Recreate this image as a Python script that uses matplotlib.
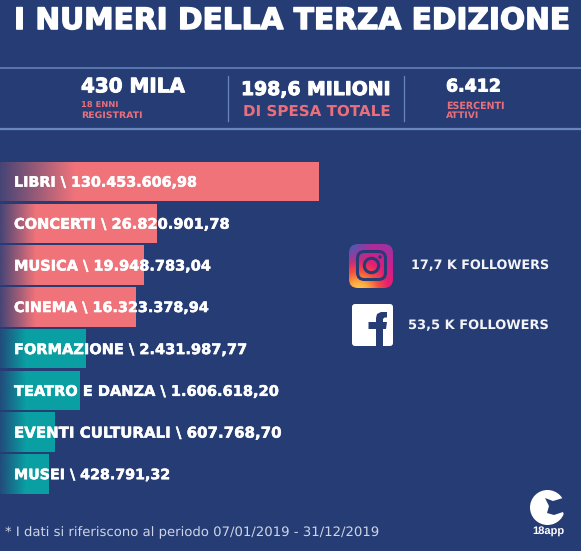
import numpy as np
import matplotlib
matplotlib.use("Agg")
import matplotlib.pyplot as plt
import matplotlib.patheffects as pe
from matplotlib.patches import FancyBboxPatch, Circle, Polygon
from matplotlib.colors import LinearSegmentedColormap, to_rgb

plt.rcParams["text.hinting"] = "no_hinting"
plt.rcParams["text.hinting_factor"] = 8

# ---- data ----
categories = ["LIBRI", "CONCERTI", "MUSICA", "CINEMA", "FORMAZIONE",
              "TEATRO E DANZA", "EVENTI CULTURALI", "MUSEI"]
spending = ["130.453.606,98", "26.820.901,78", "19.948.783,04", "16.323.378,94",
            "2.431.987,77", "1.606.618,20", "607.768,70", "428.791,32"]
# the bars in the reference are not proportional to the amounts: drawn lengths as read
bar_lengths = [319, 157, 144, 136, 86, 80, 55, 49]
bar_groups = ["pink", "pink", "pink", "pink", "teal", "teal", "teal", "teal"]
fade_lengths = [75, 36, 36, 36, 26, 26, 26, 26]
social = ["17,7 K FOLLOWERS", "53,5 K FOLLOWERS"]

BG = "#263c75"
PINK = "#f0737a"
TEAL = "#0a9fa3"
LINE = "#6787bd"
SALMON = "#e96f7c"
FONT = "DejaVu Sans"
colors = {"pink": PINK, "teal": TEAL}

fig = plt.figure(figsize=(5.81, 5.51), dpi=100, facecolor=BG)
ax = fig.add_axes([0, 0, 1, 1])
ax.set_xlim(0, 581)
ax.set_ylim(551, 0)
ax.axis("off")
renderer = fig.canvas.get_renderer()


def put(x, y, s, width=None, size=12, color="white", weight="bold", ha="left",
        stroke=0.0, family=FONT):
    t = ax.text(x, y + 0.8, s, color=color, fontsize=size, fontweight=weight, family=family,
                ha=ha, va="center", zorder=10)
    if width is not None:
        for _ in range(3):
            t.set_fontsize(t.get_fontsize() * width / t.get_window_extent(renderer).width)
    if stroke:
        t.set_path_effects([pe.withStroke(linewidth=stroke, foreground=color)])
    return t


# header
put(14, 20, "I NUMERI DELLA TERZA EDIZIONE", width=556, size=22, stroke=1.0)
ax.plot([0, 581], [68, 68], color=LINE, lw=1.1)
ax.plot([0, 581], [129, 129], color=LINE, lw=1.6)
ax.plot([228, 228], [76, 121], color=LINE, lw=0.9)
ax.plot([404, 404], [76, 121], color=LINE, lw=0.9)

put(81, 86, "430 MILA", width=104, size=15, stroke=0.7)
put(81, 105, "18 ENNI", width=37, size=7, color=SALMON)
put(81, 115, "REGISTRATI", width=62, size=7, color=SALMON)
put(241, 89, "198,6 MILIONI", width=150, size=15, stroke=0.7)
put(243, 111, "DI SPESA TOTALE", width=147, size=12, color=SALMON, weight="semibold")
put(446, 86, "6.412", width=55, size=15, stroke=0.7)
put(446, 105, "ESERCENTI", width=59, size=7, color=SALMON)
put(446, 115, "ATTIVI", width=33, size=7, color=SALMON)

# bars
ys = np.linspace(181.5, 474, 8)
heights = 39.5
bar_colors = [colors[g] for g in bar_groups]
ax.barh(ys, bar_lengths, height=heights, color=bar_colors, linewidth=0, zorder=2)

fade = np.zeros((2, 256, 4))
fade[..., :3] = to_rgb(BG)
fade[..., 3] = np.linspace(0.85, 0.0, 256)
for y, f in zip(ys, fade_lengths):
    ax.imshow(fade, extent=(0, f, y + heights / 2, y - heights / 2), aspect="auto",
              interpolation="bilinear", zorder=3)

label_widths = [183, 215, 197, 195, 232, 264, 267, 156]
for y, c, v, w in zip(ys, categories, spending, label_widths):
    put(14, y + 0.5, f"{c} \\ {v}", width=(w + 2 * (186 + 0.0) / 186 * 0) * 0.5 + 0.5 * w, size=10.5, stroke=0.35)

# Instagram icon
gy, gx = np.mgrid[0:1:120j, 0:1:120j]
radial = np.clip(np.hypot(gx - 0.22, gy - 1.08) / 1.15, 0, 1)
cmap = LinearSegmentedColormap.from_list(
    "ig", ["#ffd35a", "#fba53f", "#f4503f", "#e6206f", "#cc1f8e", "#a52f9e"])
rgba = cmap(radial)
corner = np.clip(1.0 - np.hypot(gx, gy) / 0.55, 0, 1)[..., None]
rgba[..., :3] = rgba[..., :3] * (1 - corner) + np.array(to_rgb("#3f62b5")) * corner
im = ax.imshow(rgba, extent=(349, 393, 288, 244), aspect="auto", zorder=4)
clip = FancyBboxPatch((353, 248), 36, 36, boxstyle="round,pad=4,rounding_size=9",
                      fc="none", ec="none")
ax.add_patch(clip)
im.set_clip_path(clip)
ax.add_patch(FancyBboxPatch((357.5, 251.5), 28, 28, boxstyle="round,pad=0,rounding_size=7",
                            fc="none", ec=BG, lw=2.2, zorder=5))
ax.add_patch(Circle((371.5, 265.5), 7.2, fc="none", ec=BG, lw=2.2, zorder=5))
ax.add_patch(Circle((380, 257), 1.7, fc=BG, ec="none", zorder=5))

# Facebook icon
ax.add_patch(FancyBboxPatch((354, 306), 37, 38, boxstyle="round,pad=2,rounding_size=3",
                            fc="white", ec="none", zorder=4))
ax.add_patch(Polygon([(383, 346), (383, 329), (386, 329), (387, 322), (383, 322), (383, 319),
                      (384.5, 317.5), (387, 317.5), (387, 312), (381, 312), (377, 314),
                      (376, 318), (376, 322), (368.5, 322), (368.5, 329), (376, 329), (376, 346)],
                     fc=BG, ec="none", zorder=5))

put(411, 265, social[0], width=138, size=10, color="#f2f4f8", weight="semibold")
put(408, 324.5, social[1], width=141, size=10, color="#f2f4f8", weight="semibold")

# footnote
put(5, 532, "* I dati si riferiscono al periodo 07/01/2019 - 31/12/2019", width=371, size=10,
    color="#cdd5e6", weight="normal")

# 18app logo
ax.add_patch(Circle((547.5, 507.5), 17.5, fc="white", ec="none", zorder=4))
ax.add_patch(Polygon([(566, 494), (563, 498), (553, 501), (545, 498), (549, 506), (547, 513),
                      (554, 515), (563, 512), (566, 520)],
                     fc=BG, ec="none", zorder=5))
put(548, 530.5, "18app", width=32, size=9, ha="center", weight="bold", family="Liberation Sans")

ax.set_xlim(0, 581)
ax.set_ylim(551, 0)
fig.savefig("out.png", dpi=100, facecolor=BG)
